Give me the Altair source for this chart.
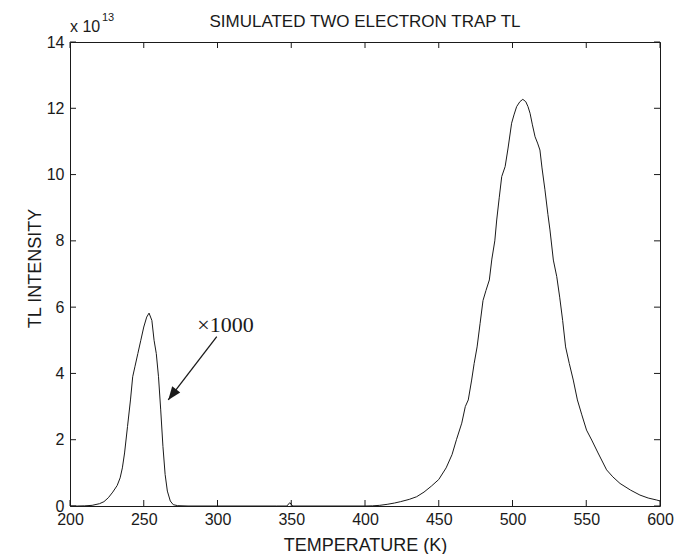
import altair as alt
import pandas as pd

# ---- data (intensity in units of 1e13; low-T peak already multiplied by 1000) ----
temps = [200, 205, 210, 215, 220, 223, 226, 229, 232, 234, 235.5, 237, 239, 241, 242.5,
         244, 246, 248, 250, 252, 253.6, 255.5, 257, 258.5, 260, 261.5, 263, 264.5, 266,
         268, 270, 273, 280, 300, 340, 347, 349, 351, 360, 400, 405, 410, 415, 420, 424,
         430, 435, 440, 445, 450, 455, 459, 462, 465.6, 468, 470, 472.3, 474, 476, 478,
         480, 482, 484.3, 486, 488, 489.3, 491, 492.7, 495, 497, 499.4, 501, 502.8, 505,
         507, 509, 510.5, 511.9, 513.5, 515.3, 517, 518.6, 520, 522, 524, 525.4, 527.7,
         530, 532, 534, 536, 538.5, 541.2, 544, 547, 550.2, 553.7, 558, 563.8, 568,
         572.9, 580, 586.4, 592, 597.8, 600]
intensity = [0, 0, 0.005, 0.02, 0.07, 0.13, 0.25, 0.42, 0.62, 0.85, 1.15, 1.6, 2.4, 3.2, 3.9,
             4.2, 4.6, 5.0, 5.4, 5.7, 5.82, 5.6, 5.0, 4.6, 3.9, 2.9, 1.8, 0.95, 0.45,
             0.15, 0.04, 0.01, 0, 0, 0, 0, 0.1, 0, 0, 0, 0.005, 0.02, 0.05, 0.09, 0.13,
             0.2, 0.28, 0.42, 0.6, 0.8, 1.15, 1.55, 2.0, 2.5, 3.0, 3.2, 3.8, 4.3, 4.8, 5.5,
             6.2, 6.5, 6.82, 7.45, 8.0, 8.63, 9.3, 9.94, 10.24, 10.8, 11.55, 11.8, 12.05, 12.2,
             12.27, 12.2, 12.05, 11.85, 11.5, 11.14, 10.95, 10.74, 10.2, 9.54, 8.8, 8.33, 7.42,
             6.92, 6.3, 5.6, 4.8, 4.3, 3.8, 3.2, 2.75, 2.29, 1.99, 1.6, 1.09, 0.88,
             0.68, 0.48, 0.33, 0.24, 0.18, 0.15]

x_ticks = [200, 250, 300, 350, 400, 450, 500, 550, 600]
y_ticks = [0, 2, 4, 6, 8, 10, 12, 14]

title_text = "SIMULATED TWO ELECTRON TRAP TL"
label_text = ["×1000"]
label_T = [305.4]
label_I = [5.46]
arrow_T = [299.5, 266.6]
arrow_I = [5.11, 3.2]

# ---- styling ----
W, H = 590, 464
FONT = "Liberation Sans"
INK = "#1a1a1a"
TICK = 6

xs = alt.Scale(domain=[200, 600], nice=False, zero=False)
ys = alt.Scale(domain=[0, 14], nice=False, zero=False)

X = alt.X("T:Q", scale=xs)
Y = alt.Y("I:Q", scale=ys)

curve = pd.DataFrame({"T": temps, "I": intensity})

line = alt.Chart(curve).mark_line(color=INK, strokeWidth=1).encode(
    x=alt.X("T:Q", scale=xs, axis=alt.Axis(
        values=x_ticks, title="TEMPERATURE (K)", ticks=False, domain=False, grid=False,
        labelFlush=False, labelOverlap=False, labelPadding=5, labelFontSize=16,
        labelFont=FONT, labelColor=INK, titleFont=FONT, titleFontSize=18,
        titleFontWeight="normal", titleColor=INK, titleX=W / 2, titleY=39,
        titleBaseline="middle")),
    y=alt.Y("I:Q", scale=ys, axis=alt.Axis(
        values=y_ticks, title="TL INTENSITY", ticks=False, domain=False, grid=False,
        labelFlush=False, labelOverlap=False, labelPadding=6, labelFontSize=16,
        labelFont=FONT, labelColor=INK, titleFont=FONT, titleFontSize=18,
        titleFontWeight="normal", titleColor=INK, titleX=-35, titleY=226,
        titleAngle=270, titleBaseline="middle")),
)

xt = pd.DataFrame({"T": x_ticks})
yt = pd.DataFrame({"I": y_ticks})

tick_bottom = alt.Chart(xt).mark_rule(color=INK, strokeWidth=1).encode(
    x=X, y=alt.value(H), y2=alt.value(H - TICK))
tick_top = alt.Chart(xt).mark_rule(color=INK, strokeWidth=1).encode(
    x=X, y=alt.value(0), y2=alt.value(TICK))
tick_left = alt.Chart(yt).mark_rule(color=INK, strokeWidth=1).encode(
    y=Y, x=alt.value(0), x2=alt.value(TICK))
tick_right = alt.Chart(yt).mark_rule(color=INK, strokeWidth=1).encode(
    y=Y, x=alt.value(W - TICK), x2=alt.value(W))

ann = pd.DataFrame({"T": label_T, "I": label_I, "label": label_text})
ann_text = alt.Chart(ann).mark_text(
    font="Liberation Serif", fontSize=22, color=INK, align="center", baseline="middle"
).encode(x=X, y=Y, text="label:N")

arr = pd.DataFrame({"T": arrow_T, "I": arrow_I, "o": [0, 1]})
arrow_line = alt.Chart(arr).mark_line(color=INK, strokeWidth=1.3).encode(
    x=X, y=Y, order="o:Q")
head = pd.DataFrame({"T": arrow_T[1:], "I": arrow_I[1:]})
arrow_head = alt.Chart(head).mark_point(
    shape="M0,0L-0.38,1L0.38,1Z", filled=True, size=700, angle=217, color=INK,
    opacity=1, strokeWidth=0
).encode(x=X, y=Y)

title_mark = alt.Chart(pd.DataFrame({"t": [title_text]})).mark_text(
    font=FONT, fontSize=17, color=INK, align="center", baseline="alphabetic"
).encode(x=alt.value(W / 2), y=alt.value(-15), text="t:N")
exp_base = alt.Chart(pd.DataFrame({"t": ["x 10"]})).mark_text(
    font=FONT, fontSize=16, color=INK, align="left", baseline="alphabetic"
).encode(x=alt.value(0), y=alt.value(-10), text="t:N")
exp_pow = alt.Chart(pd.DataFrame({"t": ["13"]})).mark_text(
    font=FONT, fontSize=11, color=INK, align="left", baseline="alphabetic"
).encode(x=alt.value(32), y=alt.value(-21), text="t:N")

chart = alt.layer(
    line, tick_bottom, tick_top, tick_left, tick_right,
    ann_text, arrow_line, arrow_head, title_mark, exp_base, exp_pow
).properties(
    width=W, height=H,
    padding={"left": 62, "top": 34, "right": 24, "bottom": 48},
    autosize=alt.AutoSizeParams(type="none"),
).configure(background="white").configure_view(stroke=INK, strokeWidth=1)

chart.save("out.html", embed_options={"renderer": "svg", "actions": False})
